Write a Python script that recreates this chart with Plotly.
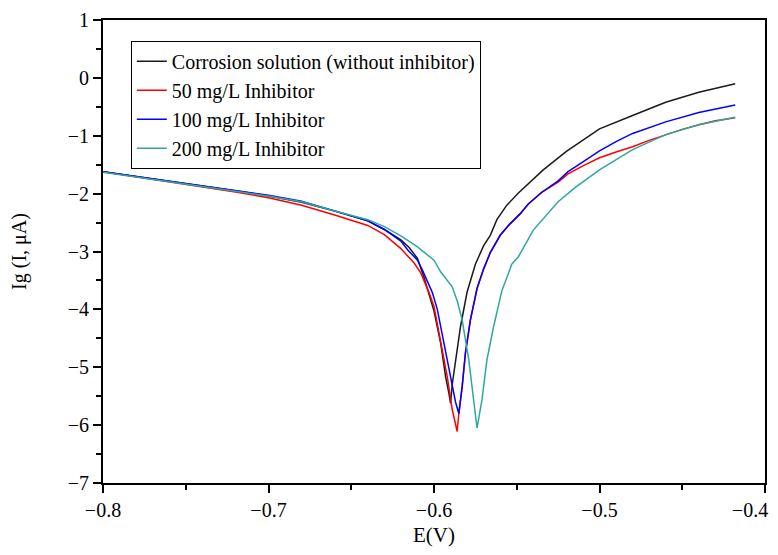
import plotly.graph_objects as go

# Corrosion solution (without inhibitor)
e_blank = [-0.80, -0.76, -0.72, -0.70, -0.68, -0.66, -0.64, -0.63, -0.62, -0.615, -0.61,
           -0.606, -0.603, -0.600, -0.596, -0.593, -0.591, -0.590, -0.589, -0.587, -0.584,
           -0.580, -0.575, -0.570, -0.566, -0.562, -0.556, -0.549, -0.540, -0.534, -0.52,
           -0.50, -0.48, -0.46, -0.44, -0.418]
i_blank = [-1.62, -1.78, -1.95, -2.04, -2.15, -2.30, -2.47, -2.62, -2.80, -2.93, -3.12,
           -3.45, -3.72, -4.03, -4.58, -5.16, -5.45, -5.62, -5.30, -4.87, -4.30,
           -3.70, -3.22, -2.90, -2.72, -2.45, -2.20, -1.99, -1.76, -1.59, -1.27,
           -0.88, -0.65, -0.42, -0.25, -0.10]

# 50 mg/L Inhibitor
e_50 = [-0.80, -0.76, -0.72, -0.70, -0.68, -0.66, -0.64, -0.63, -0.62, -0.612, -0.608,
        -0.603, -0.600, -0.597, -0.594, -0.592, -0.589, -0.587, -0.586, -0.585, -0.584,
        -0.583, -0.581, -0.578, -0.574, -0.570, -0.566, -0.560, -0.555, -0.548, -0.543,
        -0.535, -0.525, -0.519, -0.51, -0.50, -0.49, -0.48, -0.47, -0.46, -0.45, -0.44,
        -0.43, -0.418]
i_50 = [-1.62, -1.79, -1.97, -2.07, -2.20, -2.37, -2.55, -2.71, -2.95, -3.20, -3.37,
        -3.71, -3.95, -4.40, -4.85, -5.16, -5.73, -6.00, -6.11, -5.80, -5.60,
        -5.34, -4.75, -4.18, -3.64, -3.30, -3.02, -2.72, -2.55, -2.35, -2.18,
        -1.98, -1.80, -1.66, -1.52, -1.38, -1.28, -1.19, -1.08, -0.98, -0.89, -0.81,
        -0.74, -0.69]

# 100 mg/L Inhibitor
e_100 = [-0.80, -0.76, -0.72, -0.70, -0.68, -0.66, -0.64, -0.63, -0.62, -0.616, -0.61,
         -0.607, -0.604, -0.601, -0.598, -0.596, -0.592, -0.589, -0.587, -0.585, -0.584,
         -0.583, -0.581, -0.578, -0.574, -0.570, -0.566, -0.560, -0.555, -0.548, -0.543,
         -0.535, -0.525, -0.519, -0.51, -0.50, -0.49, -0.48, -0.46, -0.44, -0.418]
i_100 = [-1.62, -1.78, -1.95, -2.03, -2.13, -2.30, -2.47, -2.62, -2.82, -2.97, -3.15,
         -3.32, -3.50, -3.71, -4.00, -4.30, -4.87, -5.34, -5.60, -5.80, -5.60,
         -5.34, -4.75, -4.18, -3.64, -3.30, -3.02, -2.72, -2.55, -2.35, -2.18,
         -1.98, -1.78, -1.62, -1.45, -1.26, -1.10, -0.96, -0.76, -0.60, -0.47]

# 200 mg/L Inhibitor
e_200 = [-0.80, -0.76, -0.72, -0.70, -0.68, -0.66, -0.64, -0.63, -0.62, -0.61, -0.605,
         -0.600, -0.596, -0.592, -0.589, -0.586, -0.583, -0.579, -0.576, -0.574, -0.571,
         -0.568, -0.564, -0.559, -0.553, -0.549, -0.540, -0.525, -0.515, -0.50, -0.48,
         -0.46, -0.44, -0.418]
i_200 = [-1.63, -1.80, -1.96, -2.04, -2.14, -2.30, -2.45, -2.57, -2.73, -2.92, -3.03,
         -3.15, -3.35, -3.50, -3.61, -3.85, -4.18, -4.87, -5.56, -6.05, -5.56,
         -4.87, -4.30, -3.68, -3.22, -3.09, -2.63, -2.14, -1.90, -1.59, -1.24,
         -0.98, -0.81, -0.68]

# x tick values and labels (last label padded so it stays inside the page)
x_tick_vals = [-0.8, -0.7, -0.6, -0.5, -0.4]
x_tick_text = ["\u22120.8", "\u22120.7", "\u22120.6", "\u22120.5",
               "\u22120.4\u00a0\u00a0\u00a0\u00a0\u00a0\u00a0"]

names = ["Corrosion solution (without inhibitor)", "50 mg/L Inhibitor",
         "100 mg/L Inhibitor", "200 mg/L Inhibitor"]
colors = ["#1a1a1a", "#ff0000", "#0000ff", "#2ea89f"]
series = [(e_blank, i_blank), (e_50, i_50), (e_100, i_100), (e_200, i_200)]

fig = go.Figure()
for (x, y), n, c in zip(series, names, colors):
    fig.add_trace(go.Scatter(x=x, y=y, mode="lines", name=n,
                             line=dict(color=c, width=1.5)))

font_family = "Liberation Serif"
axis_common = dict(
    showline=True, linecolor="black", linewidth=2, mirror=True,
    ticks="outside", ticklen=8, tickwidth=1.5, tickcolor="black",
    showgrid=False, zeroline=False, automargin=False,
    ticklabeloverflow="allow",
    tickfont=dict(family=font_family, size=20, color="black"),
)

fig.update_xaxes(range=[-0.8, -0.4], tickmode="array",
                 tickvals=x_tick_vals, ticktext=x_tick_text,
                 minor=dict(dtick=0.05, ticklen=5, tickcolor="black", ticks="outside"),
                 title=dict(text="E(V)", font=dict(family=font_family, size=21, color="black"),
                            standoff=30),
                 **axis_common)
fig.update_yaxes(range=[-7, 1], dtick=1,
                 minor=dict(dtick=0.5, ticklen=5, tickcolor="black", ticks="outside"),
                 title=dict(text="Ig (I, μA)\u00a0\u00a0\u00a0\u00a0\u00a0",
                            font=dict(family=font_family, size=20, color="black"),
                            standoff=40),
                 **axis_common)

fig.update_layout(
    width=770, height=539,
    margin=dict(l=95, r=13, t=12, b=64),
    plot_bgcolor="white", paper_bgcolor="white",
    font=dict(family=font_family, size=20, color="black"),
    legend=dict(x=0.042, y=0.955, xanchor="left", yanchor="top",
                bordercolor="black", borderwidth=1, bgcolor="white",
                font=dict(family=font_family, size=20, color="black"),
                tracegroupgap=0, itemwidth=30),
    showlegend=True,
)

fig.write_html("out.html")
